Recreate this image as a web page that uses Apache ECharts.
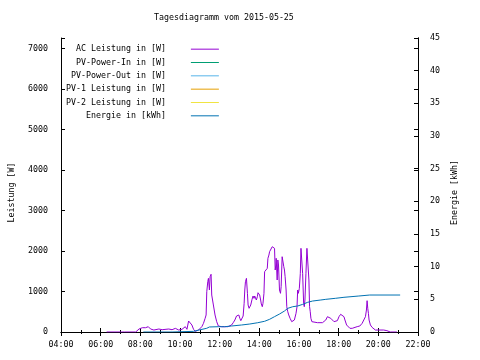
<!DOCTYPE html>
<html><head><meta charset="utf-8">
<script src="https://cdn.jsdelivr.net/npm/echarts@6/dist/echarts.min.js"></script>
<style>html,body{margin:0;padding:0;background:#fff}#c{width:480px;height:360px}</style>
</head><body><div id="c"></div>
<script>
const titleText = 'Tagesdiagramm vom 2015-05-25';
const leftAxisName = 'Leistung [W]';
const rightAxisName = 'Energie [kWh]';
const seriesNames = ['AC Leistung in [W]', 'PV-Power-In in [W]', 'PV-Power-Out in [W]', 'PV-1 Leistung in [W]', 'PV-2 Leistung in [W]', 'Energie in [kWh]'];
const seriesColors = ['#9400D3', '#009E73', '#56B4E9', '#E69F00', '#F0E442', '#0072B2'];
const xTickLabels = ['04:00', '06:00', '08:00', '10:00', '12:00', '14:00', '16:00', '18:00', '20:00', '22:00'];
const leftTickLabels = [0, 1000, 2000, 3000, 4000, 5000, 6000, 7000];
const rightTickLabels = [0, 5, 10, 15, 20, 25, 30, 35, 40, 45];

const acTimes = ['06:18','07:03','07:06','07:12','07:46','07:51','07:56','08:01','08:06','08:16','08:24','08:29','08:31','08:36','08:41','08:46','08:56','09:01','09:06','09:11','09:26','09:31','09:36','09:41','09:46','09:48','09:56','10:01','10:06','10:07','10:11','10:16','10:21','10:26','10:31','10:36','10:41','10:46','10:51','10:56','11:01','11:06','11:11','11:16','11:19','11:21','11:24','11:26','11:29','11:31','11:34','11:36','11:41','11:46','11:51','11:56','12:06','12:15','12:25','12:31','12:36','12:41','12:46','12:51','12:54','12:58','13:01','13:04','13:08','13:11','13:14','13:16','13:18','13:21','13:24','13:26','13:29','13:34','13:38','13:41','13:44','13:46','13:51','13:54','13:56','13:59','14:01','14:04','14:06','14:09','14:11','14:14','14:16','14:19','14:21','14:24','14:26','14:29','14:31','14:36','14:39','14:44','14:46','14:48','14:50','14:51','14:54','14:56','14:58','15:01','15:04','15:06','15:09','15:11','15:14','15:16','15:18','15:21','15:23','15:26','15:29','15:33','15:38','15:41','15:46','15:51','15:54','15:56','15:58','16:01','16:04','16:06','16:09','16:11','16:14','16:16','16:18','16:21','16:24','16:28','16:30','16:32','16:34','16:36','16:39','16:44','16:56','17:01','17:11','17:16','17:21','17:26','17:31','17:36','17:41','17:46','17:51','17:56','18:01','18:06','18:11','18:16','18:19','18:24','18:28','18:34','18:41','18:46','18:56','19:04','19:11','19:16','19:21','19:24','19:26','19:28','19:30','19:32','19:36','19:41','19:46','19:51','20:01','20:06','20:16','20:21','20:26','20:31','20:36','20:56'];
const acValues = [0,0,17,0,0,25,74,123,106,106,131,131,74,49,49,74,74,57,57,74,74,90,57,90,90,49,49,66,66,33,90,131,66,272,272,173,66,16,0,49,74,131,214,337,420,995,1242,1325,1037,1365,1425,913,667,420,255,148,131,131,131,115,173,230,296,395,444,420,338,280,296,395,708,1037,1242,1325,955,667,585,667,807,889,831,889,790,872,970,995,913,790,691,625,708,955,1489,1531,1449,1572,1820,1900,1983,2024,2106,2123,2066,1531,1654,1820,1284,1778,1654,1037,955,1119,1859,1900,1613,1531,1366,1037,625,501,420,338,255,214,296,461,625,1037,955,1078,1448,2066,2106,1448,708,625,790,1448,2066,2024,1284,625,501,338,255,230,230,255,230,255,296,378,420,338,296,255,230,280,378,437,444,378,296,173,132,91,91,115,132,148,214,230,378,543,773,585,461,296,173,115,66,49,49,33,49,25,33,8,0,0];

const energyTimes = ['08:09','09:36','09:37','10:41','10:42','10:58','11:01','11:21','11:24','11:29','11:56','12:15','12:36','13:06','13:31','13:55','14:16','14:31','14:46','15:01','15:16','15:26','15:41','15:56','16:11','16:26','16:41','17:06','17:21','17:51','18:16','19:01','19:34','21:06'];
const energyValues = [0,0,0.1,0.1,0.2,0.31,0.46,0.57,0.66,0.77,0.81,0.81,0.92,1.07,1.22,1.42,1.64,1.94,2.35,2.75,3.21,3.62,3.87,3.98,4.23,4.54,4.74,4.90,5.0,5.16,5.31,5.51,5.66,5.66];

const pvInValues = [];
const pvOutValues = [];
const pv1Values = [];
const pv2Values = [];

function toHours(t) { const p = t.split(':'); return +p[0] + (+p[1]) / 60; }
function pairs(times, vals) { return times.map((t, i) => [toHours(t), vals[i]]); }

const FONT = 'DejaVu Sans Mono';
const FS = 8.3;
const txt = { fontFamily: FONT, fontSize: FS, color: '#000' };
const axisLine = { show: true, lineStyle: { color: '#000', width: 1 } };

function legendLabel(name) {
  let s = name;
  while (s.length < 21) s = ' ' + s;
  return s + '    ';
}

const xBase = {
  type: 'value', min: 4, max: 22, interval: 2,
  axisLine: axisLine,
  axisTick: { show: true, inside: true, length: 4, lineStyle: { color: '#000' } },
  minorTick: { show: true, splitNumber: 2, length: 2, lineStyle: { color: '#000' } },
  splitLine: { show: false }
};

const option = {
  animation: false,
  backgroundColor: '#fff',
  title: { text: titleText, left: 154, top: 14, padding: 0, textStyle: Object.assign({ fontWeight: 'normal' }, txt) },
  grid: { left: 58, right: 62, top: 38, bottom: 28 },
  legend: {
    orient: 'vertical', left: 61, top: 42.5, padding: 0, itemGap: 0,
    align: 'right', icon: 'rect', itemWidth: 28, itemHeight: 1,
    textStyle: Object.assign({ lineHeight: 13.33 }, txt),
    formatter: legendLabel,
    data: seriesNames
  },
  xAxis: [
    Object.assign({}, xBase, {
      position: 'bottom',
      axisLabel: Object.assign({ margin: 9, formatter: v => (v % 2 === 0 ? xTickLabels[(v - 4) / 2] : '') }, txt)
    }),
    Object.assign({}, xBase, { position: 'top', axisLabel: { show: false } })
  ],
  yAxis: [
    {
      type: 'value', min: 0, max: 7260, interval: 1000, position: 'left',
      name: leftAxisName, nameLocation: 'middle', nameRotate: 90, nameGap: 45,
      nameTextStyle: Object.assign({ padding: [0, 15, 0, 0] }, txt),
      axisLine: axisLine,
      axisTick: { show: true, inside: true, length: 4, lineStyle: { color: '#000' } },
      axisLabel: Object.assign({ margin: 13, formatter: v => (leftTickLabels.indexOf(v) >= 0 ? String(v) : '') }, txt),
      splitLine: { show: false }
    },
    {
      type: 'value', min: 0, max: 45, interval: 5, position: 'right',
      name: rightAxisName, nameLocation: 'middle', nameRotate: 90, nameGap: 30,
      nameTextStyle: Object.assign({ padding: [0, 15, 0, 0] }, txt),
      axisLine: axisLine,
      axisTick: { show: true, inside: true, length: 4, lineStyle: { color: '#000' } },
      axisLabel: Object.assign({ margin: 12, formatter: v => (rightTickLabels.indexOf(v) >= 0 ? String(v) : '') }, txt),
      splitLine: { show: false }
    },
    {
      type: 'value', min: 0, max: 7260, interval: 1000, position: 'right',
      axisLine: axisLine,
      axisTick: { show: true, inside: true, length: 4, lineStyle: { color: '#000' } },
      axisLabel: { show: false },
      splitLine: { show: false }
    }
  ],
  series: [
    { name: seriesNames[0], type: 'line', yAxisIndex: 0, data: pairs(acTimes, acValues), showSymbol: false, symbol: 'none', lineStyle: { width: 1, color: seriesColors[0] }, itemStyle: { color: seriesColors[0] } },
    { name: seriesNames[1], type: 'line', yAxisIndex: 0, data: pvInValues, showSymbol: false, symbol: 'none', lineStyle: { width: 1, color: seriesColors[1] }, itemStyle: { color: seriesColors[1] } },
    { name: seriesNames[2], type: 'line', yAxisIndex: 0, data: pvOutValues, showSymbol: false, symbol: 'none', lineStyle: { width: 1, color: seriesColors[2] }, itemStyle: { color: seriesColors[2] } },
    { name: seriesNames[3], type: 'line', yAxisIndex: 0, data: pv1Values, showSymbol: false, symbol: 'none', lineStyle: { width: 1, color: seriesColors[3] }, itemStyle: { color: seriesColors[3] } },
    { name: seriesNames[4], type: 'line', yAxisIndex: 0, data: pv2Values, showSymbol: false, symbol: 'none', lineStyle: { width: 1, color: seriesColors[4] }, itemStyle: { color: seriesColors[4] } },
    { name: seriesNames[5], type: 'line', yAxisIndex: 1, data: pairs(energyTimes, energyValues), showSymbol: false, symbol: 'none', lineStyle: { width: 1, color: seriesColors[5] }, itemStyle: { color: seriesColors[5] } }
  ]
};

const chart = echarts.init(document.getElementById('c'), null, { renderer: 'canvas' });
chart.setOption(option);
</script>
</body></html>
